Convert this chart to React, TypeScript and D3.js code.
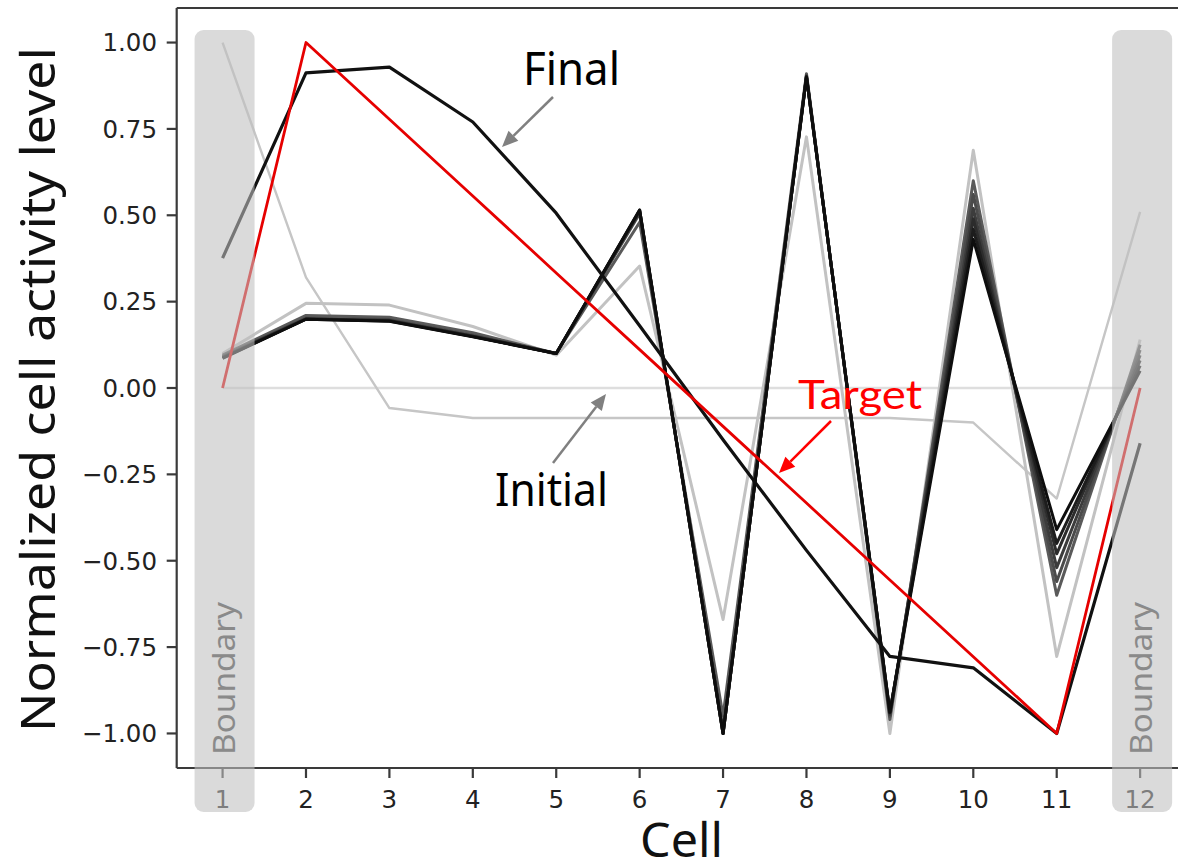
import * as d3 from "d3";

// cell index on the x axis
const cells = [1, 2, 3, 4, 5, 6, 7, 8, 9, 10, 11, 12];
const yTicks = [-1, -0.75, -0.5, -0.25, 0, 0.25, 0.5, 0.75, 1];

const zeroLine = [0, 0, 0, 0, 0, 0, 0, 0, 0, 0, 0, 0];
const initial = [1.0, 0.32, -0.058, -0.087, -0.087, -0.087, -0.087, -0.087, -0.087, -0.1, -0.32, 0.51];
const target = [0, 1, 0.778, 0.556, 0.333, 0.111, -0.111, -0.333, -0.556, -0.778, -1, 0];
const final = [0.376, 0.912, 0.929, 0.77, 0.506, 0.18, -0.15, -0.47, -0.777, -0.81, -1.0, -0.16];

// intermediate runs, lightest (early) to darkest (late)
const iter1 = [0.1, 0.245, 0.24, 0.178, 0.095, 0.353, -0.67, 0.727, -1.0, 0.688, -0.777, 0.14];
const iter2 = [0.095, 0.21, 0.205, 0.16, 0.1, 0.48, -0.95, 0.91, -0.96, 0.6, -0.6, 0.125];
const iter3 = [0.092, 0.202, 0.198, 0.153, 0.1, 0.505, -0.99, 0.905, -0.95, 0.56, -0.56, 0.11];
const iter4 = [0.09, 0.2, 0.196, 0.15, 0.1, 0.51, -1.0, 0.903, -0.945, 0.52, -0.52, 0.095];
const iter5 = [0.088, 0.2, 0.195, 0.15, 0.1, 0.513, -1.0, 0.902, -0.94, 0.49, -0.48, 0.08];
const iter6 = [0.087, 0.199, 0.194, 0.149, 0.1, 0.515, -1.0, 0.9, -0.94, 0.46, -0.45, 0.065];
const iter7 = [0.086, 0.199, 0.193, 0.148, 0.1, 0.515, -1.0, 0.9, -0.938, 0.43, -0.41, 0.05];
const iterations = [iter1, iter2, iter3, iter4, iter5, iter6, iter7];

const boundaryCells = [1, 12];

const width = 1178;
const height = 867;

const x = d3.scaleLinear().domain([0.45, 12.55]).range([176.7, 1186]);
const y = d3.scaleLinear().domain([-1.1, 1.1]).range([768, 8]);

const line = d3
    .line<number>()
    .x((_, i) => x(cells[i]))
    .y((d) => y(d));

const greyOf = d3.scaleLinear<string>().domain([0, 1, 6]).range(["#c2c2c2", "#5a5a5a", "#0e0e0e"]);

function Arrow({ x1, y1, x2, y2, color }: { x1: number; y1: number; x2: number; y2: number; color: string }) {
    const ang = Math.atan2(y2 - y1, x2 - x1);
    const len = 16;
    const half = 7;
    const bx = x2 - len * Math.cos(ang);
    const by = y2 - len * Math.sin(ang);
    const px = -Math.sin(ang) * half;
    const py = Math.cos(ang) * half;
    return (
        <g>
            <line x1={x1} y1={y1} x2={bx} y2={by} stroke={color} strokeWidth={2.5} />
            <polygon points={`${x2},${y2} ${bx + px},${by + py} ${bx - px},${by - py}`} fill={color} />
        </g>
    );
}

export default function App() {
    const tickFont = "'DejaVu Sans', sans-serif";
    const labelFont = "'Noto Sans', 'Open Sans', sans-serif";
    return (
        <svg width={width} height={height} style={{ position: "absolute", left: 0, top: 0, background: "#fff" }}>
            {/* lines */}
            <path d={line(zeroLine) ?? ""} fill="none" stroke="#dedede" strokeWidth={2.4} />
            <path d={line(initial) ?? ""} fill="none" stroke="#c6c6c6" strokeWidth={2.4} strokeLinejoin="round" />
            {iterations.map((s, i) => (
                <path key={i} d={line(s) ?? ""} fill="none" stroke={greyOf(i)} strokeWidth={3} strokeLinejoin="round" />
            ))}
            <path d={line(final) ?? ""} fill="none" stroke="#111" strokeWidth={3.2} strokeLinejoin="round" />
            <path d={line(target) ?? ""} fill="none" stroke="#e60000" strokeWidth={2.8} strokeLinejoin="round" />

            {/* spines */}
            <line x1={176.7} x2={176.7} y1={8} y2={768} stroke="#3a3a3a" strokeWidth={2.2} />
            <line x1={176.7} x2={1186} y1={8} y2={8} stroke="#3a3a3a" strokeWidth={2.2} />
            <line x1={176.7} x2={1186} y1={768} y2={768} stroke="#3a3a3a" strokeWidth={2.2} />

            {/* y ticks */}
            {yTicks.map((t) => (
                <g key={t}>
                    <line x1={166.7} x2={176.7} y1={y(t)} y2={y(t)} stroke="#3a3a3a" strokeWidth={2.2} />
                    <text x={157} y={y(t)} dy="0.36em" textAnchor="end" fontFamily={tickFont} fontSize={24.5} fill="#222">
                        {d3.format(".2f")(t).replace("-", "\u2212")}
                    </text>
                </g>
            ))}
            {/* x ticks */}
            {cells.map((c) => (
                <g key={c}>
                    <line x1={x(c)} x2={x(c)} y1={768} y2={778} stroke="#3a3a3a" strokeWidth={2.2} />
                    <text x={x(c)} y={808} textAnchor="middle" fontFamily={tickFont} fontSize={24.5} fill="#222">
                        {c}
                    </text>
                </g>
            ))}

            {/* boundary boxes */}
            {boundaryCells.map((c) => (
                <g key={c}>
                    <rect x={x(c) - 28} y={30} width={60} height={782} rx={9} fill="#c0c0c0" fillOpacity={0.58} />
                    <text
                        transform={`translate(${x(c) + 12},755) rotate(-90)`}
                        fontFamily={labelFont}
                        fontSize={30}
                        fill="#8a8a8a"
                        textLength={153}
                        lengthAdjust="spacingAndGlyphs"
                    >
                        Boundary
                    </text>
                </g>
            ))}

            {/* axis titles */}
            <text
                transform="translate(55,389.5) rotate(-90)"
                textAnchor="middle"
                fontFamily={labelFont}
                fontSize={48}
                fill="#111"
                textLength={685}
                lengthAdjust="spacingAndGlyphs"
            >
                Normalized cell activity level
            </text>
            <text x={640} y={857} fontFamily={labelFont} fontSize={47} fill="#111" textLength={83} lengthAdjust="spacingAndGlyphs">
                Cell
            </text>

            {/* annotations */}
            <text x={523} y={85} fontFamily={labelFont} fontSize={45} fill="#000" textLength={97} lengthAdjust="spacingAndGlyphs">
                Final
            </text>
            <Arrow x1={553} y1={97} x2={502} y2={147} color="#808080" />
            <text x={495} y={506} fontFamily={labelFont} fontSize={45} fill="#000" textLength={113} lengthAdjust="spacingAndGlyphs">
                Initial
            </text>
            <Arrow x1={553} y1={463} x2={606} y2={394} color="#808080" />
            <text x={798} y={409} fontFamily="Lato, sans-serif" fontSize={41} fill="#ff0000" textLength={124} lengthAdjust="spacingAndGlyphs">
                Target
            </text>
            <Arrow x1={831} y1={421} x2={779} y2={473} color="#ff0000" />
        </svg>
    );
}
